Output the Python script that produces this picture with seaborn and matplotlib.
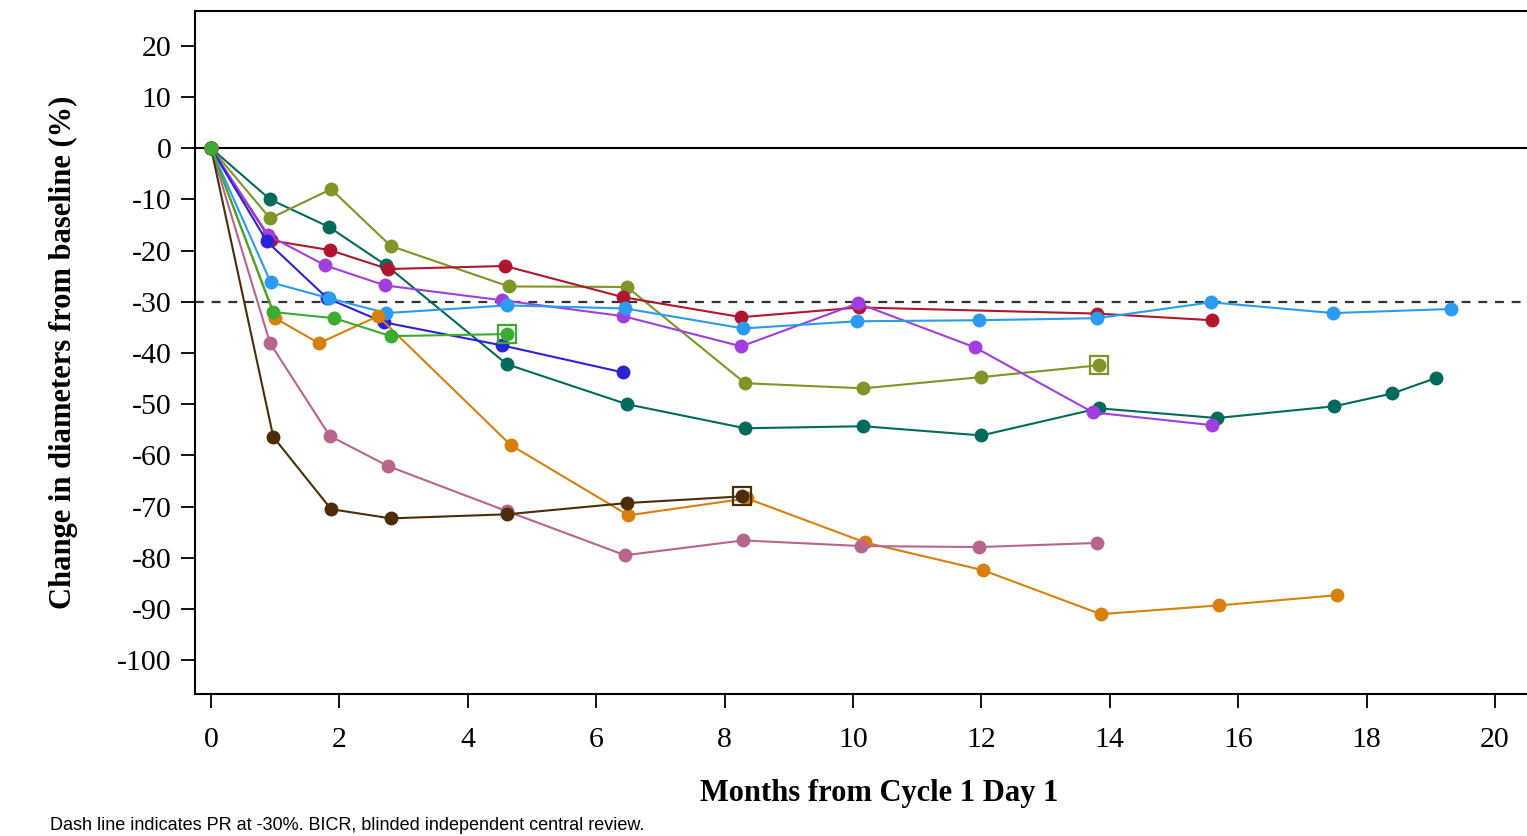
import numpy as np
import pandas as pd
import matplotlib
matplotlib.use("Agg")
import matplotlib.pyplot as plt
import seaborn as sns

# ---- data ----
teal_x = [0, 0.92, 1.84, 2.73, 4.61, 6.48, 8.32, 10.16, 12.0, 13.83, 15.67, 17.5, 18.4, 19.08]
teal_y = [0, -10, -15.4, -22.9, -42.2, -50, -54.7, -54.3, -56.1, -50.8, -52.7, -50.4, -47.9, -44.9]
olive_x = [0, 0.92, 1.87, 2.8, 4.64, 6.48, 8.32, 10.16, 12.0, 13.83]
olive_y = [0, -13.7, -8.0, -19.1, -27.0, -27.1, -45.9, -46.9, -44.7, -42.4]
red_x = [0, 0.93, 1.85, 2.76, 4.58, 6.42, 8.26, 10.1, 13.8, 15.6]
red_y = [0, -18, -19.9, -23.6, -23.0, -29.1, -33.0, -31.1, -32.3, -33.6]
purple_x = [0, 0.89, 1.78, 2.71, 4.53, 6.42, 8.26, 10.08, 11.9, 13.74, 15.6]
purple_y = [0, -17, -22.9, -26.8, -29.7, -32.8, -38.7, -30.3, -38.9, -51.6, -54.1]
blue_x = [0, 0.87, 1.81, 2.69, 4.53, 6.42]
blue_y = [0, -18.2, -29.3, -34.0, -38.5, -43.8]
lblue_x = [0, 0.93, 1.84, 2.73, 4.61, 6.45, 8.29, 10.06, 11.96, 13.8, 15.58, 17.48, 19.31]
lblue_y = [0, -26.2, -29.3, -32.2, -30.7, -31.3, -35.2, -33.8, -33.6, -33.2, -30.1, -32.2, -31.4]
orange_x = [0, 1.0, 1.68, 2.6, 4.67, 6.5, 8.35, 10.19, 12.02, 13.86, 15.7, 17.54]
orange_y = [0, -33.2, -38.1, -32.8, -58.0, -71.7, -68.4, -77.0, -82.4, -91.0, -89.3, -87.3]
pink_x = [0, 0.92, 1.85, 2.76, 4.61, 6.45, 8.29, 10.12, 11.96, 13.8]
pink_y = [0, -38.1, -56.2, -62.1, -70.9, -79.5, -76.6, -77.7, -77.9, -77.1]
brown_x = [0, 0.97, 1.87, 2.8, 4.61, 6.48, 8.27]
brown_y = [0, -56.4, -70.5, -72.3, -71.5, -69.3, -68.0]
green_x = [0, 0.97, 1.92, 2.8, 4.61]
green_y = [0, -32.0, -33.2, -36.7, -36.3]

# squares (last assessment markers)
sq_patient = ["green", "olive", "brown"]
sq_x = [4.61, 13.83, 8.27]
sq_y = [-36.3, -42.4, -68.0]

x_ticks = list(range(0, 21, 2))
y_ticks = list(range(20, -101, -10))
y_tick_labels = [str(v) for v in y_ticks]

series = [
    ("teal", teal_x, teal_y, "#006B5C"),
    ("olive", olive_x, olive_y, "#7E9527"),
    ("red", red_x, red_y, "#B0172E"),
    ("purple", purple_x, purple_y, "#A13FDE"),
    ("blue", blue_x, blue_y, "#2A22D6"),
    ("lblue", lblue_x, lblue_y, "#2B9BF0"),
    ("orange", orange_x, orange_y, "#D7800E"),
    ("pink", pink_x, pink_y, "#B8658D"),
    ("brown", brown_x, brown_y, "#4B2D0A"),
    ("green", green_x, green_y, "#3DAA30"),
]

rows = []
for name, xs, ys, _ in series:
    for xv, yv in zip(xs, ys):
        rows.append({"patient": name, "month": xv, "change": yv})
df = pd.DataFrame(rows)
palette = {name: c for name, _, _, c in series}
order = [s[0] for s in series]

sns.set_theme(style="white")
plt.rcParams["font.family"] = ["Liberation Serif", "DejaVu Serif"]
plt.rcParams["text.color"] = "black"
plt.rcParams["axes.labelcolor"] = "black"
plt.rcParams["xtick.color"] = "black"
plt.rcParams["ytick.color"] = "black"

fig = plt.figure(figsize=(15.27, 8.36), dpi=100)
ax = fig.add_axes([195 / 1527, 1 - 694 / 836, 1 - 195 / 1527, (694 - 11) / 836])

ax.axhline(0, color="black", lw=1.5, zorder=1)
ax.axhline(-30, color="#333333", lw=1.6, ls=(0, (4, 3.5)), zorder=1)

sns.lineplot(data=df, x="month", y="change", hue="patient", hue_order=order,
             palette=palette, marker="o", markersize=10, markeredgewidth=0,
             linewidth=1.5, legend=False, sort=False, estimator=None, ax=ax)

sq_df = pd.DataFrame({"patient": sq_patient, "month": sq_x, "change": sq_y})
for p, xv, yv in zip(sq_df["patient"], sq_df["month"], sq_df["change"]):
    ax.plot([xv], [yv], marker="s", markersize=13, markerfacecolor="none",
            markeredgecolor=palette[p], markeredgewidth=1.6, zorder=5, linestyle="none")

ax.set_xlim(-0.25, 20.5)
ax.set_ylim(-106.6, 26.8)
ax.set_xticks(x_ticks)
ax.set_xticklabels([str(v) for v in x_ticks], fontsize=21.5)
ax.set_yticks(y_ticks)
ax.set_yticklabels(y_tick_labels, fontsize=21.5)
ax.tick_params(axis="both", which="major", direction="out", length=10, width=1.3,
               color="black", labelcolor="black", left=True, bottom=True)
ax.tick_params(axis="x", pad=14)
ax.tick_params(axis="y", pad=7)
for s in ["left", "bottom", "top"]:
    ax.spines[s].set_visible(True)
    ax.spines[s].set_color("black")
    ax.spines[s].set_linewidth(1.5)
ax.spines["right"].set_visible(False)

ax.set_xlabel("Months from Cycle 1 Day 1", fontsize=22, fontweight="bold", color="black")
ax.set_ylabel("Change in diameters from baseline (%)", fontsize=22, fontweight="bold", color="black")
ax.xaxis.label.set_va("center")
ax.yaxis.label.set_va("center")
ax.xaxis.set_label_coords((879 - 195) / 1332, (694 - 794) / 683)
ax.yaxis.set_label_coords((63 - 195) / 1332, 0.5)
ax.grid(False)

fig.text(50 / 1527, 2 / 836, "Dash line indicates PR at -30%. BICR, blinded independent central review.",
         fontsize=13, family=["Liberation Sans", "DejaVu Sans"], va="bottom", ha="left", color="black")

fig.savefig("out.png", dpi=100)
